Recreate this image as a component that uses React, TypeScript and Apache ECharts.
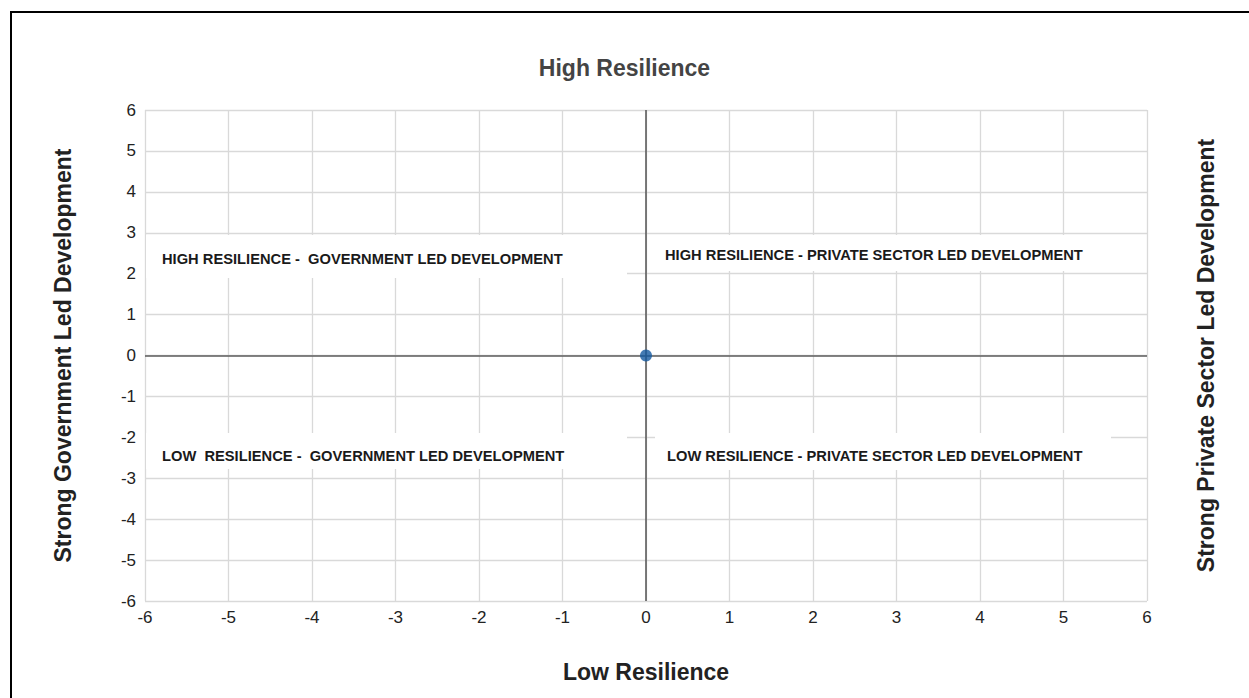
import React, { useEffect, useRef } from "react";
import * as echarts from "echarts";

const pointX: number[] = [0];
const pointY: number[] = [0];
const axisMin = -6;
const axisMax = 6;
const axisStep = 1;
const titleText = "High Resilience";
const xAxisName = "Low Resilience";
const leftAxisName = "Strong Government Led Development";
const rightAxisName = "Strong Private Sector Led Development";
const quadrantLabels: string[] = [
  "HIGH RESILIENCE -  GOVERNMENT LED DEVELOPMENT",
  "HIGH RESILIENCE - PRIVATE SECTOR LED DEVELOPMENT",
  "LOW  RESILIENCE -  GOVERNMENT LED DEVELOPMENT",
  "LOW RESILIENCE - PRIVATE SECTOR LED DEVELOPMENT",
];

const FONT = "'Liberation Sans', Arial, Helvetica, sans-serif";

export default function App() {
  const ref = useRef<HTMLDivElement>(null);
  useEffect(() => {
    if (!ref.current) return;
    const chart = echarts.init(ref.current, undefined, { renderer: "svg" });
    const boxes = [
      { x: 146, y: 235, w: 481, h: 43, tx: 162, ty: 259 },
      { x: 650, y: 235, w: 480, h: 36, tx: 665, ty: 255 },
      { x: 146, y: 433, w: 481, h: 36, tx: 162, ty: 456 },
      { x: 655, y: 433, w: 456, h: 37, tx: 667, ty: 456 },
    ];
    const graphics: any[] = [
      {
        type: "rect",
        shape: { x: 11, y: 12, width: 1300, height: 800 },
        style: { fill: "none", stroke: "#000", lineWidth: 2 },
        z: 10,
        silent: true,
      },
    ];
    boxes.forEach((b, i) => {
      graphics.push({
        type: "rect",
        shape: { x: b.x, y: b.y, width: b.w, height: b.h },
        style: { fill: "#fff" },
        z: 1,
        silent: true,
      });
      graphics.push({
        type: "text",
        x: b.tx,
        y: b.ty,
        z: 3,
        silent: true,
        style: {
          text: quadrantLabels[i],
          fill: "#1a1a1a",
          font: `bold 14.7px ${FONT}`,
          align: "left",
          verticalAlign: "middle",
        },
      });
    });
    const nameStyle = { fontSize: 23, fontWeight: "bold", color: "#222", fontFamily: FONT };
    chart.setOption({
      animation: false,
      backgroundColor: "#fff",
      title: {
        text: titleText,
        left: "center",
        top: 51,
        textStyle: { fontSize: 23, fontWeight: "bold", color: "#444", fontFamily: FONT },
      },
      grid: { left: 145, right: 102, top: 110, bottom: 97, containLabel: false },
      xAxis: {
        type: "value",
        min: axisMin,
        max: axisMax,
        interval: axisStep,
        name: xAxisName,
        nameLocation: "middle",
        nameGap: 59,
        nameTextStyle: nameStyle,
        axisLine: { show: false },
        axisTick: { show: false },
        axisLabel: { color: "#222", fontSize: 17, margin: 8, fontFamily: FONT },
        splitLine: { show: true, lineStyle: { color: "#d9d9d9", width: 1.3 } },
      },
      yAxis: [
        {
          type: "value",
          min: axisMin,
          max: axisMax,
          interval: axisStep,
          name: leftAxisName,
          nameLocation: "middle",
          nameGap: 71,
          nameTextStyle: nameStyle,
          axisLine: { show: false },
          axisTick: { show: false },
          axisLabel: { color: "#222", fontSize: 17, margin: 9, fontFamily: FONT },
          splitLine: { show: true, lineStyle: { color: "#d9d9d9", width: 1.3 } },
        },
        {
          type: "value",
          position: "right",
          min: axisMin,
          max: axisMax,
          interval: axisStep,
          name: rightAxisName,
          nameLocation: "middle",
          nameGap: 47,
          nameRotate: 90,
          nameTextStyle: nameStyle,
          axisLine: { show: false },
          axisTick: { show: false },
          axisLabel: { show: false },
          splitLine: { show: false },
        },
      ],
      graphic: graphics,
      series: [
        {
          type: "scatter",
          data: pointX.map((x, i) => [x, pointY[i]]),
          symbolSize: 12,
          itemStyle: { color: "#155aa0" },
          z: 5,
          markLine: {
            silent: true,
            symbol: "none",
            label: { show: false },
            lineStyle: { color: "#5c5c5c", width: 1.6, type: "solid" },
            data: [{ xAxis: 0 }, { yAxis: 0 }],
          },
        },
      ],
    });
    return () => chart.dispose();
  }, []);
  return (
    <div
      ref={ref}
      style={{ position: "absolute", left: 0, top: 0, width: 1249, height: 698 }}
    />
  );
}
